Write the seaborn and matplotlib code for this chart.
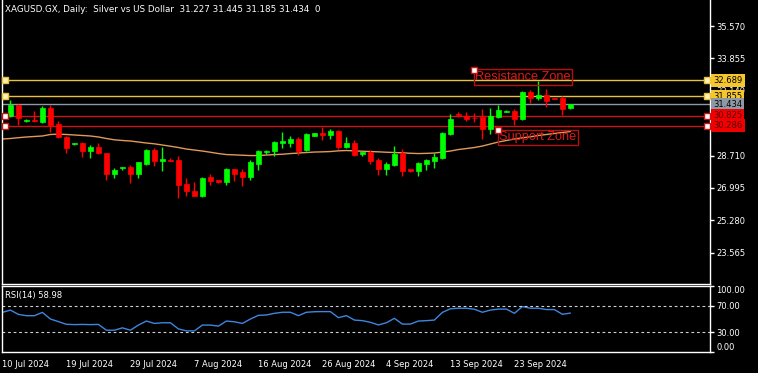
import numpy as np
import pandas as pd
import matplotlib
matplotlib.use('Agg')
import matplotlib.pyplot as plt
import seaborn as sns

# ---------------- data ----------------
title = "XAGUSD.GX, Daily:  Silver vs US Dollar  31.227 31.445 31.185 31.434  0"
date_labels = ["10 Jul 2024", "19 Jul 2024", "29 Jul 2024", "7 Aug 2024", "16 Aug 2024",
               "26 Aug 2024", "4 Sep 2024", "13 Sep 2024", "23 Sep 2024"]

opens = [30.822, 31.386, 30.534, 30.572, 30.503, 31.210, 30.359, 29.705, 29.311, 29.401,
         28.976, 29.189, 28.870, 27.753, 28.034, 28.125, 27.753, 28.284, 29.029, 28.444,
         28.497, 28.497, 27.221, 26.811, 26.582, 27.556, 27.433, 27.290, 28.002, 27.822,
         27.556, 28.284, 28.886, 28.939, 29.386, 29.386, 29.614, 28.992, 29.737, 29.896,
         29.774, 29.987, 29.151, 29.364, 28.816, 28.886, 28.497, 28.018, 28.231, 28.854,
         28.018, 27.912, 28.284, 28.407, 28.588, 29.864, 30.891, 30.822, 30.694, 30.747,
         30.120, 30.758, 31.013, 31.088, 30.641, 32.088, 31.758, 31.944, 31.758, 31.758,
         31.227]
highs = [31.673, 31.439, 30.625, 31.050, 31.354, 31.386, 30.556, 29.737, 29.401, 29.439,
         29.295, 29.386, 28.870, 28.072, 28.125, 28.194, 28.391, 29.082, 29.120, 29.189,
         28.604, 28.673, 27.524, 27.290, 27.577, 27.753, 27.433, 28.056, 28.002, 28.018,
         28.497, 29.029, 29.003, 29.471, 29.949, 29.737, 29.705, 29.917, 29.907, 30.199,
         30.093, 30.040, 29.683, 29.545, 28.896, 29.029, 28.566, 28.391, 29.205, 29.082,
         28.018, 28.375, 28.550, 28.854, 29.949, 30.891, 31.013, 31.034, 30.944, 31.183,
         31.247, 31.412, 31.104, 31.194, 32.130, 32.194, 32.673, 32.258, 31.769, 31.848,
         31.445]
lows = [30.769, 30.343, 30.481, 30.465, 30.428, 29.933, 29.667, 28.832, 29.295, 28.657,
        28.604, 28.779, 27.396, 27.540, 27.949, 27.274, 27.503, 28.215, 28.141, 27.875,
        28.417, 26.460, 26.545, 26.545, 26.513, 27.168, 27.258, 27.168, 27.343, 27.114,
        27.433, 27.965, 28.790, 28.673, 29.120, 29.151, 28.726, 28.939, 29.721, 29.561,
        29.614, 29.066, 29.120, 28.673, 28.710, 28.284, 27.662, 27.699, 28.178, 27.646,
        27.843, 27.646, 27.965, 28.056, 28.534, 29.790, 30.769, 30.534, 30.481, 29.614,
        29.827, 30.678, 30.997, 30.332, 30.572, 31.503, 31.636, 31.290, 31.705, 30.838,
        31.185]
closes = [31.407, 30.694, 30.572, 30.534, 31.210, 30.322, 29.705, 29.136, 29.386, 28.976,
          29.189, 28.832, 27.753, 27.928, 28.125, 27.753, 28.354, 29.029, 28.444, 28.550,
          28.444, 27.168, 26.811, 26.582, 27.524, 27.380, 27.290, 28.002, 27.753, 27.556,
          28.354, 28.976, 28.976, 29.417, 29.471, 29.614, 28.939, 29.843, 29.896, 29.811,
          29.987, 29.151, 29.364, 28.763, 28.886, 28.444, 28.018, 28.284, 28.816, 27.875,
          27.912, 28.322, 28.460, 28.641, 29.880, 30.662, 30.864, 30.662, 30.678, 30.093,
          30.784, 31.146, 31.088, 30.641, 32.088, 31.769, 31.944, 31.582, 31.715, 31.173,
          31.434]

# moving average (starts one bar earlier, at 10 Jul)
ma_values = [29.588, 29.614, 29.657, 29.694, 29.721, 29.747, 29.827, 29.843, 29.827, 29.800,
             29.774, 29.747, 29.694, 29.614, 29.545, 29.508, 29.481, 29.428, 29.375, 29.332,
             29.269, 29.205, 29.136, 29.056, 29.003, 28.949, 28.886, 28.816, 28.763, 28.747,
             28.726, 28.710, 28.710, 28.737, 28.763, 28.779, 28.816, 28.843, 28.870, 28.896,
             28.907, 28.923, 28.960, 28.976, 28.960, 28.939, 28.923, 28.907, 28.886, 28.870,
             28.854, 28.832, 28.816, 28.827, 28.843, 28.896, 28.949, 29.029, 29.082, 29.136,
             29.215, 29.322, 29.428, 29.508, 29.588, 29.651, 29.705, 29.774, 29.827, 29.880,
             29.933, 29.986]
rsi_values = [60.0, 63.5, 57.0, 55.0, 55.0, 60.0, 50.0, 46.0, 42.0, 41.5,
              41.8, 41.5, 41.8, 33.0, 33.0, 36.6, 33.0, 40.8, 46.9, 43.3,
              44.3, 44.3, 35.0, 32.0, 32.0, 40.8, 40.8, 39.2, 46.9, 45.8,
              43.3, 50.0, 55.5, 56.1, 58.6, 60.2, 60.2, 55.1, 60.2, 61.0,
              61.2, 61.2, 52.0, 55.1, 48.4, 47.5, 45.0, 41.0, 44.3, 51.0,
              42.3, 42.3, 46.9, 47.5, 48.4, 60.0, 65.5, 66.3, 66.3, 64.8,
              60.2, 63.5, 65.0, 65.0, 58.6, 68.9, 66.3, 66.3, 64.3, 64.3,
              57.1, 58.98]

price_ticks = [35.570, 33.855, 32.140, 30.425, 28.710, 26.995, 25.280, 23.565]
resistance_levels = [32.689, 31.855]
support_levels = [30.825, 30.286]
bid_price = 31.434
rsi_levels = [70, 30]
rsi_ticks = [0, 30, 70, 100]

# ---------------- style ----------------
sns.set_theme(style="dark")
plt.rcParams['font.family'] = ['DejaVu Sans']
BULL, BEAR = '#00FF00', '#FF0000'
YEL_LINE, YEL_BOX = '#E8C23C', '#F5C72A'
RED_LINE, RED_BOX = '#C81414', '#F00000'
GRAY = '#8E99A6'

W, H = 758, 373
fig = plt.figure(figsize=(W / 100, H / 100), dpi=100, facecolor='black')


def rect(x0, y0, x1, y1):
    return [x0 / W, 1 - y1 / H, (x1 - x0) / W, (y1 - y0) / H]


ax = fig.add_axes(rect(2, 0, 710, 284))
ax2 = fig.add_axes(rect(2, 286, 710, 352))

for a in (ax, ax2):
    a.set_facecolor('black')
    for s in a.spines.values():
        s.set_color('white')
        s.set_linewidth(1)
    a.grid(False)
    a.set_xlim(-0.05, 88.45)
    a.yaxis.tick_right()
    a.tick_params(axis='y', colors='white', labelsize=6, length=3, width=1, pad=1.5,
                  direction='out', right=True, left=False)
ax.spines['top'].set_visible(False)

# ---------------- candles ----------------
df = pd.DataFrame({'open': opens, 'high': highs, 'low': lows, 'close': closes})
df['bar'] = np.arange(1, len(df) + 1)
cols = np.where(df['close'] >= df['open'], BULL, BEAR)
ax.vlines(df['bar'], df['low'], df['high'], colors=cols, lw=1, zorder=3)
body = np.maximum((df['close'] - df['open']).abs(), 0.03)
ax.bar(df['bar'], body, bottom=np.minimum(df['open'], df['close']), width=0.58,
       color=cols, edgecolor=cols, linewidth=0.5, zorder=4)

bars_all = np.arange(0, len(ma_values))
sns.lineplot(x=bars_all, y=ma_values, ax=ax, color='#E09A5A', lw=1, zorder=2, legend=False)

ax.set_ylim(21.902, 36.955)
ax.set_yticks(price_ticks)
ax.set_yticklabels([f'{t:.3f}' for t in price_ticks])
ax.set_xticks([])
ax.set_xlabel('')
ax.set_ylabel('')

# horizontal lines
ax.axhline(bid_price, color=GRAY, lw=1, zorder=1)
for lvl in resistance_levels:
    ax.axhline(lvl, color=YEL_LINE, lw=1, zorder=1)
    ax.plot([0.004, 0.9958], [lvl, lvl], transform=ax.get_yaxis_transform(), ls='none',
            marker='s', ms=4, mfc='#FFF4B8', mec=YEL_LINE, mew=1, clip_on=False, zorder=6)
for lvl in support_levels:
    ax.axhline(lvl, color=RED_LINE, lw=1, zorder=1)
    ax.plot([0.004, 0.9958], [lvl, lvl], transform=ax.get_yaxis_transform(), ls='none',
            marker='s', ms=4, mfc='white', mec=RED_LINE, mew=1, clip_on=False, zorder=6)

# price boxes on the right scale
boxes = [(resistance_levels[0], YEL_BOX, 'black'), (resistance_levels[1], YEL_BOX, 'black'),
         (bid_price, GRAY, 'black'), (support_levels[0], RED_BOX, '#5A0000'),
         (support_levels[1], RED_BOX, '#5A0000')]
for lvl, fc, tc in boxes:
    ax.text(1.0045, lvl, f'{lvl:.3f}', transform=ax.get_yaxis_transform(), ha='left',
            va='center', fontsize=6, color=tc, clip_on=False, zorder=10,
            bbox=dict(boxstyle='square,pad=0.25', fc=fc, ec='none'))

# zone labels
zone_font = ['Liberation Sans', 'DejaVu Sans']
for bx, py, txt in [(59, 33.231, 'Resistance Zone'), (62, 30.04, 'Support Zone')]:
    ax.text(bx + 0.1, py - 0.04, txt, ha='left', va='top', fontsize=9.2, color='#E01818',
            family=zone_font, zorder=7,
            bbox=dict(boxstyle='square,pad=0.12', fc='none', ec='#B81010', lw=1))
    ax.plot([bx], [py], ls='none', marker='s', ms=4, mfc='white', mec=RED_LINE, mew=1, zorder=8)

# ---------------- RSI ----------------
sns.lineplot(x=bars_all, y=rsi_values, ax=ax2, color='#3E86E0', lw=1, legend=False)
for lv in rsi_levels:
    ax2.axhline(lv, color='#D0D0D0', lw=0.8, ls=(0, (2.5, 2.5)))
ax2.set_ylim(0, 100)
ax2.set_yticks(rsi_ticks)
ax2.set_yticklabels([f'{t:.2f}' for t in rsi_ticks])
tl = ax2.get_yticklabels()
tl[0].set_va('bottom')
tl[-1].set_va('top')
ax2.set_xticks(np.arange(len(date_labels)) * 8)
ax2.set_xticklabels(date_labels)
ax2.tick_params(axis='x', colors='white', labelsize=6, length=4, width=1, pad=1.5, direction='out')
for t in ax2.get_xticklabels():
    t.set_ha('left')
ax2.set_xlabel('')
ax2.set_ylabel('')
ax2.text(0.004, 0.93, 'RSI(14) 58.98', transform=ax2.transAxes, ha='left', va='top',
         fontsize=6, color='white')

fig.text(5 / W, 1 - 10 / H, title, ha='left', va='center', fontsize=6.3, color='white')

fig.savefig('out.png', dpi=100, facecolor='black')
